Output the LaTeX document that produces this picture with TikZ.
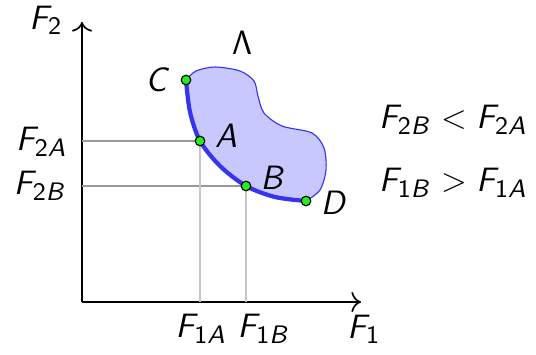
\documentclass[tikz,border=0pt]{standalone}
\usetikzlibrary{arrows.meta, positioning}
\DeclareMathAlphabet{\mathsfit}{OT1}{cmss}{m}{sl}
\newcommand{\sv}[1]{\mathsfit{#1}}
\newcommand{\Fv}[2]{\mathsfit{F}_{\mathsf{#1}\mathsfit{#2}}}
\definecolor{regFill}{HTML}{C8C8FF}
\definecolor{regLine}{HTML}{3535F0}
\definecolor{dotGreen}{HTML}{22EE22}

\begin{document}
\begin{tikzpicture}[
  x=0.0125cm, y=-0.0125cm,
  font=\sffamily\fontsize{12.5}{14}\selectfont,
  axis/.style={semithick, -{To[length=1.2mm]}},
  guide/.style={gray!80, thin},
  guidev/.style={gray!45, thin},
  pt/.style={circle, draw=black, fill=dotGreen, inner sep=0pt, minimum size=0.12cm, thin},
  lbl/.style={inner sep=1pt}
]
\useasboundingbox (0,0) rectangle (536,354);
% axes
\coordinate (O) at (82,302);
\coordinate (ytop) at (82,22);
\coordinate (xend) at (361,302);
\draw[axis] (O) -- (ytop);
\draw[axis] (O) -- (xend);
% region Lambda
\fill[regFill]
  plot[smooth] coordinates {(186,80) (196,71) (215,67) (240,71) (254,81) (258,96) (264,113) (282,126) (312,133) (324,148) (326,170) (320,190) (306,201)}
  -- plot[smooth] coordinates {(306,201) (275,197) (246,186) (220,166) (200,141) (190,112) (186,80)} -- cycle;
\draw[regLine, thin]
  plot[smooth] coordinates {(186,80) (196,71) (215,67) (240,71) (254,81) (258,96) (264,113) (282,126) (312,133) (324,148) (326,170) (320,190) (306,201)};
\draw[regLine, line width=1.5pt]
  plot[smooth] coordinates {(306,201) (275,197) (246,186) (220,166) (200,141) (190,112) (186,80)};
% guide lines
\coordinate (yA) at (82,141);
\coordinate (yB) at (82,186);
\coordinate (xA) at (200,302);
\coordinate (xB) at (246,302);
\coordinate (pA) at (200,141);
\coordinate (pB) at (246,186);
\draw[guide] (yA) -- (pA);
\draw[guide] (yB) -- (pB);
\draw[guidev] (pA) -- (xA);
\draw[guidev] (pB) -- (xB);
% points
\node[pt] (C) at (186,80) {};
\node[pt] (A) at (pA) {};
\node[pt] (B) at (pB) {};
\node[pt] (D) at (306,201) {};
% labels
\node[lbl] (lC) at (158,80) {$\sv{C}$};
\node[lbl] (lA) at (226,136) {$\sv{A}$};
\node[lbl] (lB) at (273,178) {$\sv{B}$};
\node[lbl] (lD) at (334,203) {$\sv{D}$};
\node[lbl] (lam) at (242,43) {$\mathsf{\Lambda}$};
\node[lbl, anchor=east] (lF2) at (66,20) {$\sv{F}_{\mathsf{2}}$};
\node[lbl, anchor=east] (lF2A) at (70,142) {$\Fv{2}{A}$};
\node[lbl, anchor=east] (lF2B) at (70,186) {$\Fv{2}{B}$};
\node[lbl] (lF1A) at (201,329) {$\Fv{1}{A}$};
\node[lbl] (lF1B) at (264,329) {$\Fv{1}{B}$};
\node[lbl] (lF1) at (364,329) {$\sv{F}_{\mathsf{1}}$};
\node[lbl] (rel1) at (453,120) {$\Fv{2}{B} < \Fv{2}{A}$};
\node[lbl] (rel2) at (453,183) {$\Fv{1}{B} > \Fv{1}{A}$};
\end{tikzpicture}
\end{document}
